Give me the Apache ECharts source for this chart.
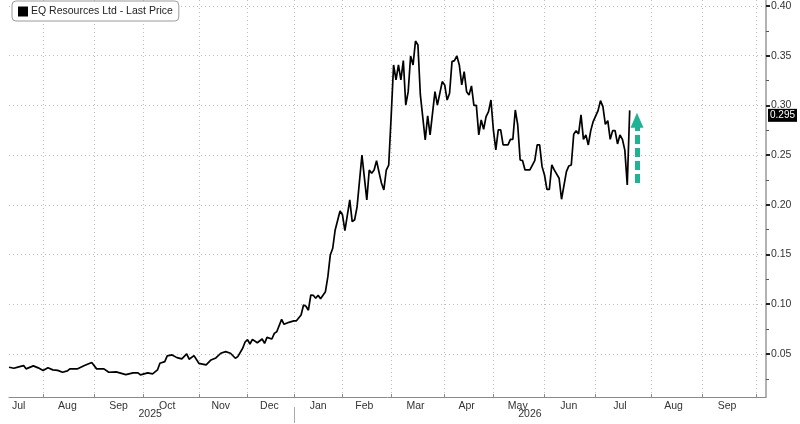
<!DOCTYPE html>
<html><head><meta charset="utf-8">
<script src="https://cdn.jsdelivr.net/npm/echarts@6/dist/echarts.min.js"></script>
<style>html,body{margin:0;padding:0;background:#fff}#c{width:800px;height:424px}</style>
</head><body><div id="c"></div>
<script>
const seriesName = 'EQ Resources Ltd - Last Price';
const axisStart = '2025-07-14';
const axisEnd = '2026-10-07';
const nonTradingDays = ['2025-09-25','2025-09-26','2025-12-24','2025-12-25','2025-12-26','2025-12-31',
  '2026-01-01','2026-01-26','2026-04-03','2026-04-06','2026-06-08'];
const monthNames = ['Jan','Feb','Mar','Apr','May','Jun','Jul','Aug','Sep','Oct','Nov','Dec'];
const monthLabelDays = ['2025-07-18','2025-08-15','2025-09-15','2025-10-15','2025-11-14','2025-12-12',
  '2026-01-16','2026-02-13','2026-03-16','2026-04-16','2026-05-15','2026-06-16','2026-07-15','2026-08-14','2026-09-15'];
const yTicks = [0.05,0.10,0.15,0.20,0.25,0.30,0.35,0.40];
const yMinorTicks = [0.025,0.075,0.125,0.175,0.225,0.275,0.325,0.375];
const yMin = 0.0067, yMax = 0.406;

const price = [
 ['2025-07-14',0.0366],['2025-07-16',0.0356],['2025-07-18',0.037],['2025-07-22',0.0383],['2025-07-23',0.035],
 ['2025-07-28',0.038],['2025-07-30',0.036],
 ['2025-08-01',0.0333],['2025-08-05',0.0361],['2025-08-07',0.034],['2025-08-11',0.0335],['2025-08-13',0.0316],
 ['2025-08-15',0.033],['2025-08-18',0.035],['2025-08-21',0.0349],['2025-08-26',0.0383],['2025-08-29',0.0414],
 ['2025-09-02',0.035],['2025-09-05',0.035],['2025-09-09',0.0316],['2025-09-12',0.032],['2025-09-18',0.0292],
 ['2025-09-23',0.031],['2025-09-29',0.031],['2025-09-30',0.029],
 ['2025-10-03',0.031],['2025-10-07',0.030],['2025-10-09',0.0339],['2025-10-10',0.0406],['2025-10-14',0.0423],
 ['2025-10-15',0.048],['2025-10-17',0.049],['2025-10-21',0.0463],['2025-10-23',0.045],['2025-10-27',0.050],
 ['2025-10-28',0.0447],['2025-10-30',0.0483],
 ['2025-11-03',0.0406],['2025-11-06',0.039],['2025-11-10',0.044],['2025-11-12',0.046],['2025-11-14',0.0507],
 ['2025-11-18',0.0523],['2025-11-20',0.0507],['2025-11-24',0.0457],['2025-11-25',0.0473],['2025-11-27',0.0557],
 ['2025-11-28',0.062],
 ['2025-12-01',0.0645],['2025-12-02',0.060],['2025-12-03',0.0647],['2025-12-05',0.0613],['2025-12-09',0.065],
 ['2025-12-10',0.0607],['2025-12-11',0.0667],['2025-12-15',0.065],['2025-12-16',0.0707],['2025-12-17',0.0723],
 ['2025-12-19',0.0848],['2025-12-22',0.0798],['2025-12-29',0.0818],
 ['2026-01-02',0.0832],['2026-01-05',0.0832],['2026-01-07',0.0892],['2026-01-08',0.0992],['2026-01-09',0.098],
 ['2026-01-12',0.094],['2026-01-13',0.1093],['2026-01-14',0.109],['2026-01-15',0.106],['2026-01-16',0.109],
 ['2026-01-19',0.1056],['2026-01-21',0.1126],['2026-01-22',0.1277],['2026-01-23',0.1496],['2026-01-27',0.1563],
 ['2026-01-28',0.1747],['2026-01-30',0.1938],
 ['2026-02-02',0.19],['2026-02-03',0.174],['2026-02-05',0.2049],['2026-02-06',0.183],['2026-02-09',0.185],
 ['2026-02-10',0.198],['2026-02-12',0.25],['2026-02-16',0.205],['2026-02-17',0.235],['2026-02-18',0.2317],
 ['2026-02-19',0.235],['2026-02-20',0.2444],['2026-02-23',0.233],['2026-02-24',0.222],['2026-02-25',0.215],
 ['2026-02-26',0.235],['2026-02-27',0.240],
 ['2026-03-02',0.2887],['2026-03-03',0.3407],['2026-03-04',0.3256],['2026-03-05',0.3407],['2026-03-06',0.3256],
 ['2026-03-09',0.345],['2026-03-10',0.3004],['2026-03-11',0.3138],['2026-03-12',0.3497],['2026-03-13',0.3407],
 ['2026-03-16',0.3648],['2026-03-17',0.3608],['2026-03-18',0.3105],['2026-03-20',0.2652],['2026-03-23',0.2894],
 ['2026-03-24',0.2703],['2026-03-26',0.3138],['2026-03-27',0.3004],['2026-03-31',0.3239],
 ['2026-04-01',0.3206],['2026-04-02',0.3054],['2026-04-07',0.3122],['2026-04-08',0.344],['2026-04-09',0.345],
 ['2026-04-10',0.3497],['2026-04-13',0.3407],['2026-04-14',0.3206],['2026-04-15',0.3339],['2026-04-16',0.3138],
 ['2026-04-17',0.3105],['2026-04-20',0.3196],['2026-04-21',0.30],['2026-04-22',0.30],['2026-04-23',0.2703],
 ['2026-04-24',0.2853],['2026-04-27',0.276],['2026-04-28',0.2887],['2026-04-29',0.2937],['2026-04-30',0.3054],
 ['2026-05-01',0.2753],['2026-05-04',0.2552],['2026-05-05',0.2753],['2026-05-06',0.2753],['2026-05-07',0.2602],
 ['2026-05-11',0.2602],['2026-05-12',0.2659],['2026-05-13',0.2659],['2026-05-14',0.2954],['2026-05-15',0.2803],
 ['2026-05-18',0.2451],['2026-05-19',0.2444],['2026-05-20',0.2351],['2026-05-22',0.2351],['2026-05-26',0.2444],
 ['2026-05-27',0.2602],['2026-05-28',0.2602],['2026-05-29',0.2384],
 ['2026-06-01',0.23],['2026-06-02',0.2156],['2026-06-03',0.2156],['2026-06-04',0.2401],['2026-06-05',0.2351],
 ['2026-06-10',0.2267],['2026-06-11',0.2056],['2026-06-15',0.2334],['2026-06-16',0.2391],['2026-06-17',0.2401],
 ['2026-06-18',0.2709],['2026-06-19',0.2746],['2026-06-22',0.2713],['2026-06-23',0.2904],['2026-06-24',0.2659],
 ['2026-06-25',0.2703],['2026-06-26',0.2602],['2026-06-29',0.2746],['2026-06-30',0.2837],
 ['2026-07-02',0.2947],['2026-07-03',0.3048],['2026-07-06',0.2988],['2026-07-07',0.281],['2026-07-08',0.2846],
 ['2026-07-09',0.2659],['2026-07-10',0.2746],['2026-07-13',0.2746],['2026-07-14',0.2612],['2026-07-15',0.2703],
 ['2026-07-16',0.2659],['2026-07-17',0.255],['2026-07-20',0.22],['2026-07-21',0.295]
];
const lastPrice = 0.295;
const arrowDate = '2026-07-24';
const arrowFrom = 0.222;
const arrowTo = 0.285;

// trading-day category axis
const days = [];
for (let t = Date.parse(axisStart + 'T00:00:00Z'); t <= Date.parse(axisEnd + 'T00:00:00Z'); t += 86400000) {
  const d = new Date(t); const wd = d.getUTCDay();
  if (wd === 0 || wd === 6) continue;
  const s = d.toISOString().slice(0, 10);
  if (nonTradingDays.includes(s)) continue;
  days.push(s);
}
const monthStart = new Set();
let yearSep = -1;
const yearRanges = {};
days.forEach((s, i) => {
  const y = s.slice(0, 4);
  if (!yearRanges[y]) yearRanges[y] = [i, i]; else yearRanges[y][1] = i;
  if (i > 0 && s.slice(0, 7) !== days[i - 1].slice(0, 7)) monthStart.add(i);
  if (i > 0 && y !== days[i - 1].slice(0, 4)) yearSep = i;
});
const yearLabelIdx = new Set(Object.values(yearRanges).map(r => Math.round((r[0] + r[1]) / 2)));
const labelSet = new Set(monthLabelDays);

const FONT = 'Liberation Sans';
const gridLine = { color: '#bdbdbd', type: [1, 3], width: 1 };

const chart = echarts.init(document.getElementById('c'));
chart.setOption({
  animation: false,
  textStyle: { fontFamily: FONT },
  grid: { left: 9, right: 34, top: 0, bottom: 27, containLabel: false },
  legend: {
    left: 12, top: 1,
    data: [{ name: seriesName, icon: 'rect', itemStyle: { color: '#000' } }],
    itemWidth: 10, itemHeight: 10, itemGap: 4,
    borderColor: '#9a9a9a', borderWidth: 1, borderRadius: 4,
    backgroundColor: '#fff', padding: [5, 6, 4, 6],
    textStyle: { fontSize: 10.5, color: '#222', fontFamily: FONT, padding: [0, 0, 0, -2] }
  },
  xAxis: [{
    type: 'category', data: days, boundaryGap: false,
    axisLine: { lineStyle: { color: '#8a8a8a' } },
    axisTick: { interval: (i) => monthStart.has(i), inside: true, length: 3, lineStyle: { color: '#8a8a8a' } },
    axisLabel: { interval: (i, v) => labelSet.has(v), formatter: v => monthNames[+v.slice(5, 7) - 1],
      color: '#333', fontSize: 10.5, margin: 4 },
    splitLine: { show: true, interval: (i) => monthStart.has(i), lineStyle: gridLine }
  }, {
    type: 'category', data: days, boundaryGap: false, position: 'bottom', offset: 10,
    axisLine: { show: false },
    axisTick: { show: true, interval: (i) => i === yearSep, length: 16, lineStyle: { color: '#aaa' } },
    axisLabel: { interval: (i) => yearLabelIdx.has(i), formatter: v => v.slice(0, 4), color: '#333', fontSize: 10.5, margin: 2 },
    splitLine: { show: false }
  }],
  yAxis: [{
    type: 'value', position: 'right', min: yMin, max: yMax,
    axisLine: { show: true, lineStyle: { color: '#9a9a9a', width: 1.5 } },
    axisTick: { show: true, customValues: yTicks, length: 4, lineStyle: { color: '#222', width: 2 } },
    axisLabel: { customValues: yTicks, formatter: v => v.toFixed(2), color: '#333', fontSize: 10.5, margin: 5 },
    splitLine: { show: true, lineStyle: gridLine }
  }, {
    type: 'value', position: 'right', min: yMin, max: yMax,
    axisLine: { show: false },
    axisTick: { show: true, customValues: yMinorTicks, length: 3, lineStyle: { color: '#555', width: 1 } },
    axisLabel: { show: false },
    splitLine: { show: false }
  }],
  series: [{
    name: seriesName, type: 'line', data: price, showSymbol: false, symbol: 'none',
    lineStyle: { color: '#000', width: 1.7 }, itemStyle: { color: '#000' },
    markLine: {
      silent: true, symbol: ['none', 'none'],
      data: [
        { yAxis: lastPrice, lineStyle: { color: 'rgba(0,0,0,0)', width: 1 },
          label: { show: true, position: 'end', distance: 2, formatter: lastPrice.toFixed(3),
            backgroundColor: '#000', color: '#fff', fontSize: 10, padding: [2, 2, 1, 2], fontFamily: FONT } },
        [
          { coord: [arrowDate, arrowFrom], symbol: 'none',
            lineStyle: { color: '#1db393', width: 5, type: [9, 4] }, label: { show: false } },
          { coord: [arrowDate, arrowTo], symbol: 'triangle', symbolSize: [13, 15] }
        ]
      ]
    }
  }]
});
</script></body></html>
